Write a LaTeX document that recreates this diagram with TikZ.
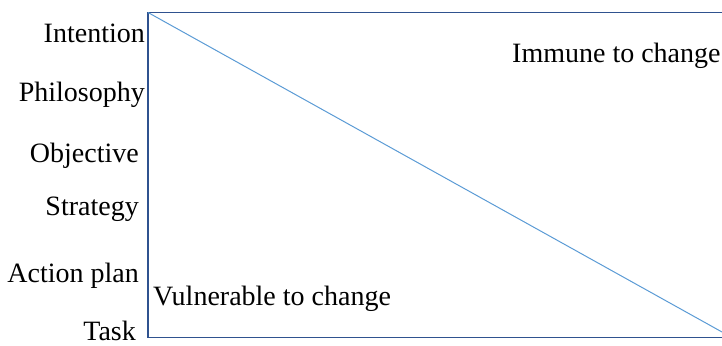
\documentclass[tikz,border=0pt]{standalone}
\usepackage{fontspec}
\setmainfont{Liberation Serif}
\usetikzlibrary{positioning}
\definecolor{frameblue}{RGB}{47,82,143}
\definecolor{lineblue}{RGB}{91,155,213}
\tikzset{
	level/.style={anchor=base east, inner sep=0pt, font=\fontsize{28}{33}\selectfont},
	zone/.style={anchor=base west, inner sep=0pt, font=\fontsize{28}{33}\selectfont},
	frame/.style={draw=frameblue, line width=1.1pt},
	diag/.style={draw=lineblue, line width=1pt}
}

\begin{document}
\begin{tikzpicture}[x=1pt, y=-1pt]
	\useasboundingbox (0, 0) rectangle (722, 345);
	% Box corners:
	\coordinate (tl) at (148, 12.5);
	\coordinate (bl) at (148, 337.5);
	\coordinate (tr) at (722, 12.5);
	\coordinate (br) at (722, 337.5);
	\coordinate (dend) at (722, 332);
	% Paths, nodes and lines:
	\draw[frame] (tr) -- (tl) -- (bl) -- (br);
	\draw[diag] (tl) -- (dend);
	\node[level] (intention) at (145, 42){Intention};
	\node[level] (philosophy) at (145, 101){Philosophy};
	\node[level] (objective) at (139, 162){Objective};
	\node[level] (strategy) at (139, 215){Strategy};
	\node[level] (actionplan) at (139, 282){Action plan};
	\node[level] (task) at (136, 340){Task};
	\node[zone] (immune) at (512, 63){Immune to change};
	\node[zone] (vulnerable) at (153, 305){Vulnerable to change};
\end{tikzpicture}
\end{document}
